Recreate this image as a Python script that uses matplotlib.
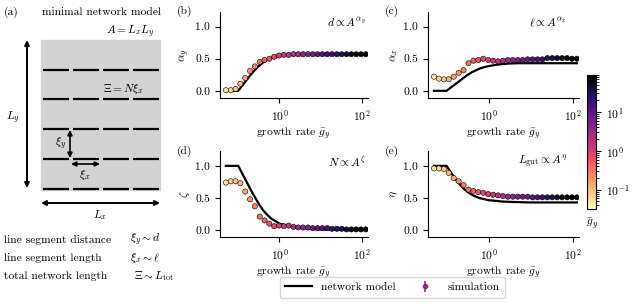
import numpy as np
import matplotlib
matplotlib.use("Agg")
import matplotlib.pyplot as plt
from matplotlib.colors import LogNorm
from matplotlib.lines import Line2D
from matplotlib.patches import Rectangle, FancyArrowPatch
import matplotlib.ticker as mticker

plt.rcParams['font.family'] = 'serif'
plt.rcParams['font.serif'] = ['cmr10', 'DejaVu Serif']
plt.rcParams['mathtext.fontset'] = 'cm'
plt.rcParams['axes.formatter.use_mathtext'] = True
plt.rcParams['font.size'] = 8.3
plt.rcParams['axes.unicode_minus'] = False

# simulation growth rates (colour = growth rate)
g_sim = [0.0501, 0.0656, 0.0860, 0.1126, 0.1476, 0.1933, 0.2532, 0.3317, 0.4345, 0.5690,
         0.7455, 0.9765, 1.279, 1.675, 2.194, 2.875, 3.766, 4.933, 6.461, 8.465,
         11.09, 14.53, 19.02, 24.93, 32.65, 42.76, 56.02, 73.38, 96.12, 125.9]

alpha_y_sim = [0.01, 0.01, 0.03, 0.11, 0.20, 0.31, 0.38, 0.45, 0.48, 0.50,
               0.53, 0.55, 0.56, 0.56, 0.57, 0.57, 0.57, 0.57, 0.57, 0.57,
               0.57, 0.57, 0.57, 0.57, 0.57, 0.57, 0.57, 0.57, 0.57, 0.57]
alpha_x_sim = [0.22, 0.19, 0.18, 0.18, 0.22, 0.28, 0.32, 0.43, 0.47, 0.48,
               0.50, 0.48, 0.47, 0.46, 0.47, 0.48, 0.48, 0.48, 0.48, 0.49,
               0.49, 0.49, 0.49, 0.51, 0.51, 0.51, 0.51, 0.51, 0.50, 0.50]
zeta_sim = [0.74, 0.76, 0.76, 0.73, 0.60, 0.48, 0.37, 0.21, 0.15, 0.10,
            0.06, 0.07, 0.06, 0.07, 0.05, 0.04, 0.04, 0.04, 0.03, 0.03,
            0.03, 0.03, 0.02, 0.02, 0.02, 0.01, 0.01, 0.01, 0.01, 0.01]
eta_sim = [0.96, 0.96, 0.95, 0.89, 0.81, 0.76, 0.70, 0.63, 0.61, 0.59,
           0.58, 0.56, 0.55, 0.54, 0.53, 0.52, 0.52, 0.52, 0.52, 0.52,
           0.51, 0.51, 0.51, 0.51, 0.51, 0.51, 0.51, 0.51, 0.51, 0.51]

# network model curves
g_model = [0.05, 0.1, 0.125, 0.16, 0.2, 0.25, 0.32, 0.4, 0.5, 0.63, 0.8, 1.0,
           1.5, 2.0, 3.0, 5.0, 10.0, 20.0, 50.0, 125.0]
alpha_y_model = [0.0, 0.0, 0.08, 0.17, 0.25, 0.32, 0.39, 0.44, 0.48, 0.51, 0.53, 0.545,
                 0.56, 0.565, 0.57, 0.57, 0.57, 0.57, 0.57, 0.57]
alpha_x_model = [0.0, 0.0, 0.05, 0.10, 0.15, 0.20, 0.25, 0.29, 0.32, 0.35, 0.37, 0.385,
                 0.405, 0.415, 0.425, 0.43, 0.43, 0.43, 0.43, 0.43]
zeta_model = [1.0, 1.0, 0.88, 0.75, 0.63, 0.52, 0.40, 0.31, 0.24, 0.18, 0.14, 0.10,
              0.07, 0.05, 0.035, 0.02, 0.01, 0.005, 0.005, 0.005]
eta_model = [1.0, 1.0, 0.90, 0.80, 0.72, 0.65, 0.59, 0.55, 0.52, 0.495, 0.48, 0.465,
             0.455, 0.445, 0.44, 0.435, 0.43, 0.43, 0.43, 0.43]

fig = plt.figure(figsize=(6.34, 3.04), dpi=100)
norm = LogNorm(vmin=0.032, vmax=90)
cmap = 'magma_r'

panels = [
    ([0.347, 0.678, 0.233, 0.283], alpha_y_sim, alpha_y_model, r'$\alpha_y$', r'$d \propto A^{\alpha_y}$', 0.99, '(b)'),
    ([0.675, 0.678, 0.238, 0.283], alpha_x_sim, alpha_x_model, r'$\alpha_x$', r'$\ell \propto A^{\alpha_x}$', 0.92, '(c)'),
    ([0.347, 0.220, 0.233, 0.283], zeta_sim, zeta_model, r'$\zeta$', r'$N \propto A^{\zeta}$', 0.99, '(d)'),
    ([0.675, 0.220, 0.238, 0.283], eta_sim, eta_model, r'$\eta$', r'$L_{\rm gut} \propto A^{\eta}$', 0.92, '(e)'),
]

for rect, sim, model, ylab, ann, ann_x, tag in panels:
    ax = fig.add_axes(rect)
    ax.plot(g_model, model, color='black', lw=1.6, zorder=2)
    sc = ax.scatter(g_sim, sim, c=g_sim, cmap=cmap, norm=norm, s=14,
                    edgecolors='black', linewidths=0.4, zorder=3)
    ax.set_xscale('log')
    ax.set_xlim(0.036, 140)
    ax.set_ylim(-0.11, 1.23)
    ax.set_xticks([1, 100])
    ax.xaxis.set_minor_locator(mticker.NullLocator())
    ax.set_yticks([0.0, 0.5, 1.0])
    ax.yaxis.set_major_formatter(mticker.FormatStrFormatter('%.1f'))
    ax.spines['top'].set_visible(False)
    ax.spines['right'].set_visible(False)
    ax.set_ylabel(ylab, labelpad=2)
    ax.set_xlabel(r'growth rate $\bar{g}_y$', labelpad=2)
    ax.text(ann_x, 0.88, ann, transform=ax.transAxes, ha='right', va='center')
    ax.text(rect[0] - 0.068, rect[1] + rect[3] + 0.0, tag, transform=fig.transFigure,
            ha='left', va='center')

cax = fig.add_axes([0.926, 0.3125, 0.0142, 0.441])
cb = fig.colorbar(sc, cax=cax)
cb.set_ticks([0.1, 1, 10])
cb.outline.set_linewidth(0.8)
cax.text(0.5, -0.06, r'$\bar{g}_y$', transform=cax.transAxes, ha='center', va='top')

# legend
h_model = Line2D([], [], color='black', lw=1.6)
lax = fig.axes[0]
h_sim = lax.errorbar([np.nan], [np.nan], yerr=[0.1], fmt='o', color='#8c2981',
                     ms=3, elinewidth=1.2)
fig.legend([h_model, h_sim], ['network model', 'simulation'], loc='lower center',
           bbox_to_anchor=(0.619, 0.0), ncol=2, frameon=True, handlelength=2.3,
           columnspacing=1.4, borderpad=0.5)

# panel (a): schematic in pixel coordinates
axa = fig.add_axes([0, 0, 190 / 634, 1])
axa.set_xlim(0, 190)
axa.set_ylim(304, 0)
axa.axis('off')
axa.add_patch(Rectangle((41, 40), 119, 150, color='#d3d3d3', zorder=0))
rows = [70, 99, 129, 159, 189]
segs = [(43, 69), (73, 99), (103, 129), (133, 159)]
for yr in rows:
    for x0, x1 in segs:
        axa.plot([x0, x1], [yr, yr], color='black', lw=1.6, solid_capstyle='butt')

def arrow(p0, p1, lw=1.4):
    axa.add_patch(FancyArrowPatch(p0, p1, arrowstyle='<|-|>', mutation_scale=7,
                                  color='black', lw=lw, shrinkA=0, shrinkB=0))

arrow((27, 40), (27, 188))
arrow((41, 203), (160, 203))
arrow((70, 130), (70, 158), lw=1.2)
arrow((71, 164), (100, 164), lw=1.2)

axa.text(4, 12, '(a)', ha='left', va='center')
axa.text(101, 12, 'minimal network model', ha='center', va='center')
axa.text(155, 32, r'$A = L_x L_y$', ha='right', va='center')
axa.text(124, 89, r'$\Xi = N\xi_x$', ha='center', va='center')
axa.text(13, 118, r'$L_y$', ha='center', va='center')
axa.text(61, 144, r'$\xi_y$', ha='center', va='center')
axa.text(85, 175, r'$\xi_x$', ha='center', va='center')
axa.text(100, 215, r'$L_x$', ha='center', va='center')

desc = ['line segment distance', 'line segment length', 'total network length']
rel = [r'$\xi_y \sim d$', r'$\xi_x \sim \ell$', r'$\Xi \sim L_{\rm tot}$']
rel_x = [130, 130, 134]
for i, (d, r) in enumerate(zip(desc, rel)):
    axa.text(4, 240 + 18 * i, d, ha='left', va='center')
    axa.text(rel_x[i], 240 + 18 * i, r, ha='left', va='center')

fig.savefig('out.png', dpi=100)
